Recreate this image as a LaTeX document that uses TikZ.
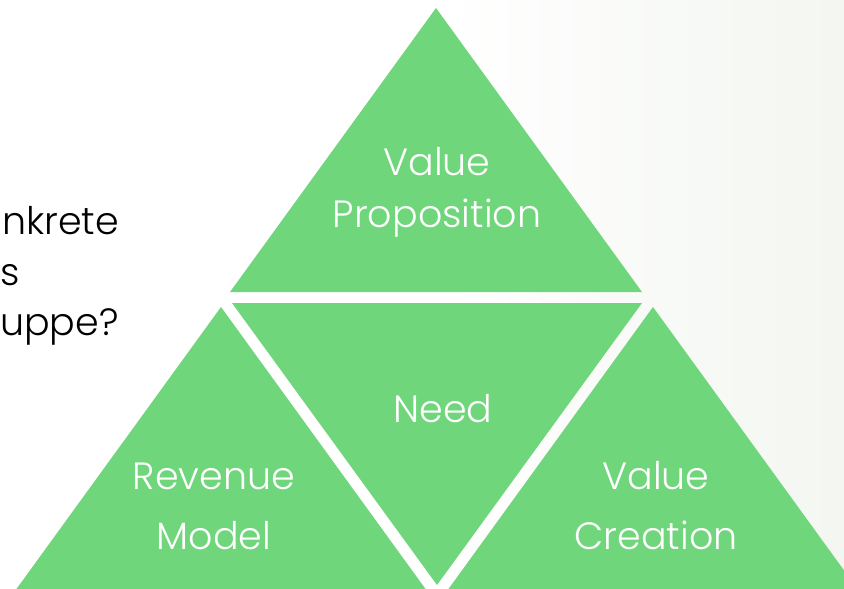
\documentclass[tikz,border=0pt]{standalone}
\usepackage{fontspec}
\setmainfont{Poppins}[UprightFont=* Light]
\definecolor{feld}{RGB}{111,214,123}
\definecolor{hinter}{RGB}{243,246,241}

\tikzstyle{dreieck} = [fill=feld, draw=none]
\tikzstyle{feldtext} = [text=white, anchor=base, inner sep=0pt, font=\fontsize{38}{50}\selectfont]
\tikzstyle{randtext} = [text=black, anchor=base west, inner sep=0pt, font=\fontsize{38}{50}\selectfont]

\begin{document}
\begin{tikzpicture}[x=1pt, y=-1pt]
    \useasboundingbox (0,0) rectangle (844,589);

    %  hintergrund
    \fill[white] (0,0) rectangle (844,589);
    \shade[left color=white, right color=hinter] (440,0) rectangle (844,589);

    %-------------------------------------------------------------
    \begin{scope}
    \clip (0,0) rectangle (844,589);
    \fill[dreieck] (436,8) -- (642,292) -- (230,292) -- cycle;
    \fill[dreieck] (232,303) -- (642,303) -- (437,585) -- cycle;
    \fill[dreieck] (221,307) -- (427,591) -- (15,591) -- cycle;
    \fill[dreieck] (653,307) -- (859,591) -- (447,591) -- cycle;
    \end{scope}

    %-------------------------------------------------------------
    \node[feldtext] (vp1) at (437,175) {Value};
    \node[feldtext] (vp2) at (437,227) {Proposition};
    \node[feldtext] (need) at (443,422) {Need};
    \node[feldtext] (rm1) at (214,489) {Revenue};
    \node[feldtext] (rm2) at (214,549) {Model};
    \node[feldtext] (vc1) at (656,489) {Value};
    \node[feldtext] (vc2) at (656,549) {Creation};

    %-------------------------------------------------------------
    \node[randtext] (frage1) at (2,234) {nkrete};
    \node[randtext] (frage2) at (0,285) {s};
    \node[randtext] (frage3) at (0,335) {uppe?};

\end{tikzpicture}
\end{document}
